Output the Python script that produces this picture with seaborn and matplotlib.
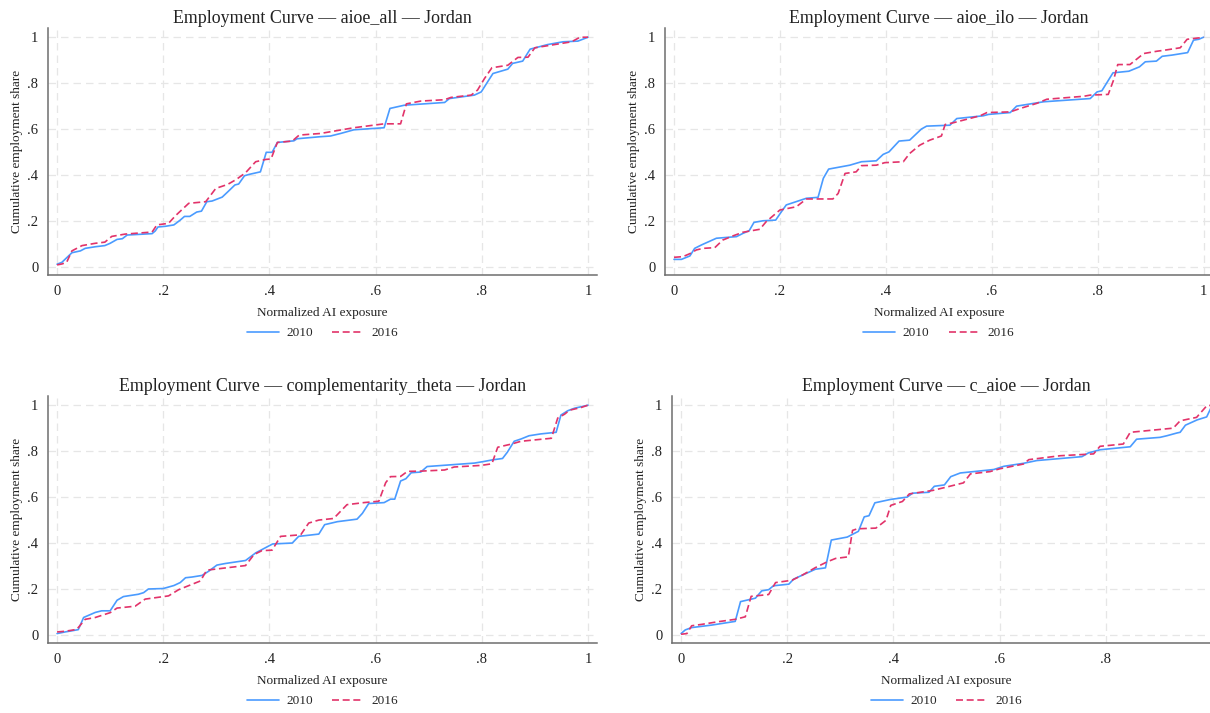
import matplotlib
matplotlib.use("Agg")
import matplotlib.pyplot as plt
from matplotlib.lines import Line2D
import numpy as np
import pandas as pd
import seaborn as sns

# ---- data (normalized AI exposure, cumulative share) ----
all_x_2010 = [0, 0.009, 0.028, 0.044, 0.053, 0.072, 0.09, 0.1, 0.113, 0.123, 0.132, 0.179, 0.185, 0.19, 0.204,
              0.22, 0.232, 0.24, 0.25, 0.263, 0.272, 0.282, 0.292, 0.311, 0.322, 0.335, 0.342, 0.353, 0.362, 0.383,
              0.394, 0.405, 0.415, 0.446, 0.452, 0.496, 0.515, 0.534, 0.559, 0.616, 0.627, 0.654, 0.73, 0.739, 0.786,
              0.799, 0.811, 0.821, 0.849, 0.858, 0.877, 0.891, 0.924, 0.953, 0.981, 1.0]
all_y_2010 = [0.012, 0.02, 0.062, 0.07, 0.081, 0.088, 0.093, 0.103, 0.12, 0.123, 0.139, 0.145, 0.157, 0.174, 0.177,
              0.183, 0.204, 0.22, 0.22, 0.239, 0.243, 0.284, 0.287, 0.304, 0.328, 0.357, 0.361, 0.397, 0.403, 0.414,
              0.499, 0.499, 0.542, 0.549, 0.558, 0.567, 0.57, 0.581, 0.597, 0.606, 0.69, 0.704, 0.716, 0.733, 0.748,
              0.762, 0.806, 0.842, 0.861, 0.886, 0.896, 0.948, 0.968, 0.98, 0.983, 1.0]
all_x_2016 = [0, 0.009, 0.018, 0.028, 0.047, 0.072, 0.09, 0.103, 0.128, 0.179, 0.188, 0.21, 0.223, 0.248, 0.28,
              0.299, 0.321, 0.337, 0.355, 0.374, 0.393, 0.403, 0.415, 0.443, 0.456, 0.496, 0.559, 0.616, 0.647, 0.658,
              0.685, 0.73, 0.742, 0.78, 0.792, 0.805, 0.819, 0.849, 0.868, 0.887, 0.9, 0.937, 0.969, 0.985, 1.0]
all_y_2016 = [0.009, 0.013, 0.02, 0.07, 0.093, 0.103, 0.108, 0.133, 0.143, 0.152, 0.183, 0.19, 0.223, 0.277, 0.284,
              0.342, 0.359, 0.38, 0.41, 0.458, 0.468, 0.47, 0.542, 0.548, 0.574, 0.581, 0.606, 0.623, 0.623, 0.71,
              0.722, 0.728, 0.738, 0.748, 0.77, 0.82, 0.867, 0.878, 0.912, 0.913, 0.954, 0.968, 0.98, 1.0, 1.0]

ilo_x_2010 = [0, 0.014, 0.03, 0.039, 0.052, 0.08, 0.118, 0.13, 0.142, 0.151, 0.168, 0.192, 0.203, 0.212, 0.25,
              0.272, 0.282, 0.292, 0.332, 0.354, 0.382, 0.395, 0.406, 0.425, 0.445, 0.467, 0.477, 0.521, 0.534, 0.584,
              0.594, 0.635, 0.647, 0.698, 0.786, 0.799, 0.808, 0.829, 0.859, 0.879, 0.89, 0.911, 0.922, 0.94, 0.97,
              0.981, 0.991, 1.0]
ilo_y_2010 = [0.033, 0.033, 0.048, 0.081, 0.096, 0.125, 0.132, 0.146, 0.158, 0.194, 0.201, 0.204, 0.241, 0.27, 0.299,
              0.303, 0.386, 0.426, 0.443, 0.458, 0.462, 0.49, 0.501, 0.548, 0.552, 0.6, 0.613, 0.617, 0.646, 0.658,
              0.664, 0.672, 0.7, 0.719, 0.733, 0.762, 0.767, 0.845, 0.852, 0.871, 0.893, 0.896, 0.917, 0.922, 0.933,
              0.987, 0.991, 1.0]
ilo_x_2016 = [0, 0.017, 0.03, 0.042, 0.055, 0.077, 0.092, 0.111, 0.13, 0.162, 0.174, 0.2, 0.231, 0.25, 0.3,
              0.31, 0.323, 0.344, 0.354, 0.382, 0.398, 0.433, 0.445, 0.464, 0.483, 0.505, 0.512, 0.528, 0.578, 0.591,
              0.635, 0.654, 0.685, 0.704, 0.774, 0.786, 0.82, 0.83, 0.838, 0.861, 0.887, 0.912, 0.925, 0.956, 0.969,
              0.991, 1.0]
ilo_y_2016 = [0.042, 0.045, 0.058, 0.074, 0.081, 0.084, 0.117, 0.135, 0.151, 0.164, 0.197, 0.248, 0.262, 0.296, 0.296,
              0.32, 0.407, 0.414, 0.441, 0.443, 0.454, 0.458, 0.494, 0.53, 0.552, 0.57, 0.62, 0.628, 0.658, 0.672,
              0.675, 0.69, 0.712, 0.73, 0.743, 0.748, 0.751, 0.813, 0.881, 0.881, 0.929, 0.939, 0.943, 0.954, 0.991,
              0.997, 1.0]

comp_x_2010 = [0, 0.015, 0.04, 0.05, 0.072, 0.084, 0.1, 0.113, 0.125, 0.153, 0.163, 0.172, 0.2, 0.22, 0.232,
               0.242, 0.254, 0.273, 0.286, 0.301, 0.317, 0.355, 0.362, 0.374, 0.392, 0.406, 0.443, 0.455, 0.493, 0.504,
               0.528, 0.565, 0.575, 0.587, 0.616, 0.628, 0.636, 0.647, 0.657, 0.667, 0.685, 0.697, 0.786, 0.804, 0.82,
               0.839, 0.848, 0.861, 0.874, 0.889, 0.911, 0.94, 0.949, 0.962, 0.975, 1.0]
comp_y_2010 = [0.006, 0.013, 0.023, 0.076, 0.098, 0.105, 0.105, 0.151, 0.167, 0.177, 0.184, 0.2, 0.202, 0.215, 0.228,
               0.249, 0.252, 0.259, 0.278, 0.304, 0.311, 0.324, 0.336, 0.357, 0.379, 0.396, 0.4, 0.429, 0.439, 0.48,
               0.493, 0.504, 0.529, 0.572, 0.576, 0.591, 0.591, 0.67, 0.68, 0.706, 0.709, 0.733, 0.748, 0.755, 0.762,
               0.768, 0.795, 0.843, 0.853, 0.867, 0.875, 0.882, 0.957, 0.976, 0.987, 1.0]
comp_x_2016 = [0, 0.015, 0.037, 0.053, 0.072, 0.1, 0.113, 0.147, 0.166, 0.21, 0.229, 0.27, 0.282, 0.355, 0.371,
               0.386, 0.405, 0.421, 0.459, 0.474, 0.493, 0.521, 0.546, 0.578, 0.606, 0.619, 0.628, 0.647, 0.66, 0.685,
               0.73, 0.748, 0.799, 0.819, 0.83, 0.856, 0.874, 0.931, 0.943, 0.956, 0.965, 0.987, 1.0]
comp_y_2016 = [0.013, 0.016, 0.024, 0.068, 0.076, 0.097, 0.117, 0.125, 0.156, 0.17, 0.197, 0.235, 0.282, 0.302, 0.35,
               0.367, 0.369, 0.429, 0.436, 0.487, 0.5, 0.507, 0.567, 0.576, 0.582, 0.663, 0.689, 0.69, 0.712, 0.713,
               0.718, 0.731, 0.738, 0.745, 0.817, 0.831, 0.843, 0.856, 0.944, 0.961, 0.978, 0.99, 1.0]

caioe_x_2010 = [0, 0.008, 0.02, 0.058, 0.102, 0.112, 0.14, 0.152, 0.165, 0.174, 0.203, 0.212, 0.253, 0.272, 0.283,
                0.313, 0.334, 0.345, 0.354, 0.365, 0.395, 0.426, 0.436, 0.467, 0.477, 0.496, 0.508, 0.526, 0.589, 0.608,
                0.645, 0.67, 0.755, 0.767, 0.789, 0.846, 0.858, 0.902, 0.915, 0.934, 0.94, 0.95, 0.972, 0.99, 0.997, 1.0]
caioe_y_2010 = [0.006, 0.022, 0.032, 0.043, 0.059, 0.145, 0.16, 0.192, 0.197, 0.214, 0.221, 0.243, 0.286, 0.292, 0.413,
                0.426, 0.451, 0.514, 0.519, 0.575, 0.59, 0.6, 0.617, 0.621, 0.647, 0.653, 0.689, 0.705, 0.72, 0.734,
                0.747, 0.759, 0.776, 0.792, 0.806, 0.819, 0.852, 0.86, 0.867, 0.879, 0.882, 0.913, 0.936, 0.949, 0.983, 1.0]
caioe_x_2016 = [0, 0.011, 0.02, 0.039, 0.071, 0.102, 0.121, 0.132, 0.165, 0.178, 0.209, 0.228, 0.253, 0.275, 0.291,
                0.315, 0.323, 0.332, 0.367, 0.386, 0.395, 0.417, 0.43, 0.474, 0.499, 0.532, 0.545, 0.582, 0.6, 0.645,
                0.655, 0.714, 0.777, 0.789, 0.833, 0.846, 0.927, 0.94, 0.971, 0.99, 1.0]
caioe_y_2016 = [0.003, 0.006, 0.04, 0.046, 0.058, 0.068, 0.079, 0.168, 0.176, 0.228, 0.238, 0.26, 0.293, 0.318, 0.333,
                0.34, 0.455, 0.462, 0.465, 0.499, 0.564, 0.581, 0.614, 0.629, 0.643, 0.662, 0.701, 0.711, 0.723, 0.744,
                0.763, 0.78, 0.788, 0.821, 0.831, 0.882, 0.9, 0.932, 0.947, 0.997, 1.0]

measures = ["aioe_all", "aioe_ilo", "complementarity_theta", "c_aioe"]
curves = {
    "aioe_all": (all_x_2010, all_y_2010, all_x_2016, all_y_2016),
    "aioe_ilo": (ilo_x_2010, ilo_y_2010, ilo_x_2016, ilo_y_2016),
    "complementarity_theta": (comp_x_2010, comp_y_2010, comp_x_2016, comp_y_2016),
    "c_aioe": (caioe_x_2010, caioe_y_2010, caioe_x_2016, caioe_y_2016),
}
years = ["2010", "2016"]
tick_vals = [0, 0.2, 0.4, 0.6, 0.8, 1]
tick_labels = ["0", ".2", ".4", ".6", ".8", "1"]

blue = "#4A9BFF"
red = "#E2336A"
axis_grey = "#6E6E6E"

sns.set_style("white")
plt.rcParams["font.family"] = ["Liberation Serif", "DejaVu Serif"]

fig = plt.figure(figsize=(12.10, 7.13), dpi=100)

# axes boxes in figure fractions (left, bottom, width, height)
boxes = [
    (0.0397, 0.6143, 0.4537, 0.3464),
    (0.5496, 0.6143, 0.4525, 0.3464),
    (0.0397, 0.0982, 0.4537, 0.3464),
    (0.5554, 0.0982, 0.4537, 0.3464),
]

for m, box in zip(measures, boxes):
    ax = fig.add_axes(box)
    x10, y10, x16, y16 = curves[m]
    df = pd.concat([
        pd.DataFrame({"x": x10, "y": y10, "year": "2010"}),
        pd.DataFrame({"x": x16, "y": y16, "year": "2016"}),
    ])
    sns.lineplot(data=df, x="x", y="y", hue="year", style="year",
                 palette={"2010": blue, "2016": red},
                 dashes={"2010": "", "2016": (4.2, 2.2)},
                 estimator=None, sort=False, linewidth=1.2, legend=False, ax=ax)

    ax.set_xlim(-0.017, 1.017)
    ax.set_ylim(-0.035, 1.04)
    ax.set_xticks(tick_vals)
    ax.set_xticklabels(tick_labels)
    ax.set_yticks(tick_vals)
    ax.set_yticklabels(tick_labels)
    ax.grid(True, color="#E6E6E6", linestyle=(0, (6, 4)), linewidth=0.9)
    ax.set_axisbelow(True)

    for s in ["top", "right"]:
        ax.spines[s].set_visible(False)
    for s in ["left", "bottom"]:
        ax.spines[s].set_color(axis_grey)
        ax.spines[s].set_linewidth(1.1)
    ax.tick_params(axis="both", direction="out", length=4, width=1, color=axis_grey,
                   labelsize=10.5, labelcolor="#222222", pad=3)

    ax.set_title(f"Employment Curve — {m} — Jordan", fontsize=12.9, color="#222222", pad=3.5)
    ax.set_xlabel("Normalized AI exposure", fontsize=9.5, color="#222222")
    ax.set_ylabel("Cumulative employment share", fontsize=9.5, color="#222222")
    ax.xaxis.set_label_coords(0.5, -0.13)
    ax.yaxis.set_label_coords(-0.046, 0.5)

    handles = [Line2D([0], [0], color=blue, lw=1.2),
               Line2D([0], [0], color=red, lw=1.2, dashes=(4.2, 2.2))]
    ax.legend(handles, years, loc="center", bbox_to_anchor=(0.5, -0.235), ncol=2,
              frameon=False, fontsize=9.5, handlelength=2.4, handletextpad=0.55,
              columnspacing=1.5)

fig.savefig("out.png", dpi=100)
